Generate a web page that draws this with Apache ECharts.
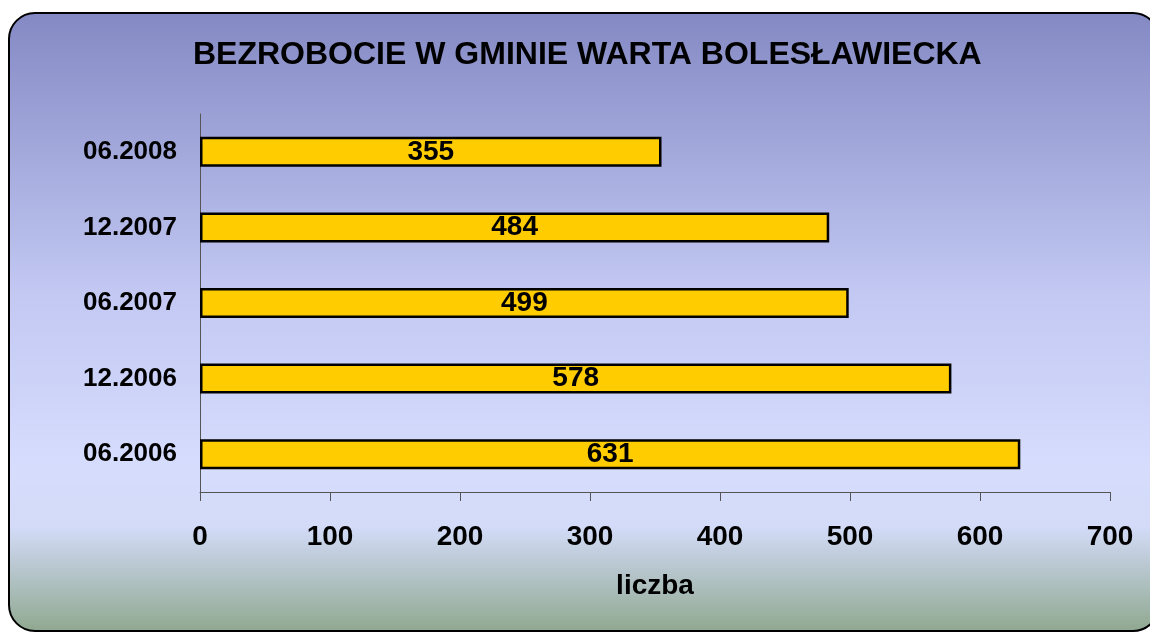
<!DOCTYPE html>
<html>
<head>
<meta charset="utf-8">
<script src="https://cdn.jsdelivr.net/npm/echarts@6/dist/echarts.min.js"></script>
<style>
  html, body { margin: 0; padding: 0; background: #fff; }
  #chart { width: 1150px; height: 633px; }
</style>
</head>
<body>
<div id="chart"></div>
<script>
// dane
const categories = ['06.2006', '12.2006', '06.2007', '12.2007', '06.2008']
const values = [631, 578, 499, 484, 355]
const xTicks = [0, 100, 200, 300, 400, 500, 600, 700]

const font = '"Liberation Sans", Arial, sans-serif'
const chart = echarts.init(document.getElementById('chart'))

chart.setOption({
  animation: false,
  graphic: [
    {
      type: 'rect',
      z: -10,
      shape: { x: 9, y: 13, width: 1150, height: 618, r: 26 },
      style: {
        fill: new echarts.graphic.LinearGradient(0, 0, 0, 1, [
          { offset: 0, color: '#8489c4' },
          { offset: 0.45, color: '#c2c8f2' },
          { offset: 0.74, color: '#d6ddfd' },
          { offset: 0.83, color: '#d3dbf8' },
          { offset: 1, color: '#8fa88f' }
        ]),
        stroke: '#000',
        lineWidth: 2
      }
    }
  ],
  title: {
    text: 'BEZROBOCIE W GMINIE WARTA BOLESŁAWIECKA',
    left: 188,
    top: 34,
    textStyle: { fontFamily: font, fontSize: 32, fontWeight: 'bold', color: '#000' }
  },
  grid: { left: 200, top: 114, right: 40, bottom: 141 },
  xAxis: {
    type: 'value',
    min: 0,
    max: 700,
    interval: 100,
    name: 'liczba',
    nameLocation: 'middle',
    nameGap: 80,
    nameTextStyle: { fontFamily: font, fontSize: 28, fontWeight: 'bold', color: '#000' },
    splitLine: { show: false },
    axisLine: { show: true, lineStyle: { color: '#555', width: 1 } },
    axisTick: { show: true, length: 9, lineStyle: { color: '#555' } },
    axisLabel: {
      margin: 31,
      fontFamily: font,
      fontSize: 28,
      fontWeight: 'bold',
      color: '#000',
      formatter: v => (xTicks.includes(v) ? String(v) : '')
    }
  },
  yAxis: {
    type: 'category',
    data: categories,
    axisLine: { show: true, lineStyle: { color: '#555', width: 1 } },
    axisTick: { show: false },
    axisLabel: { margin: 23, fontFamily: font, fontSize: 26, fontWeight: 'bold', color: '#000' }
  },
  series: [
    {
      type: 'bar',
      data: values,
      barWidth: 30,
      itemStyle: { color: '#ffcc00', borderColor: '#000', borderWidth: 2.5 },
      label: {
        show: true,
        position: 'inside',
        fontFamily: font,
        fontSize: 28,
        fontWeight: 'bold',
        color: '#000'
      }
    }
  ]
})
</script>
</body>
</html>
